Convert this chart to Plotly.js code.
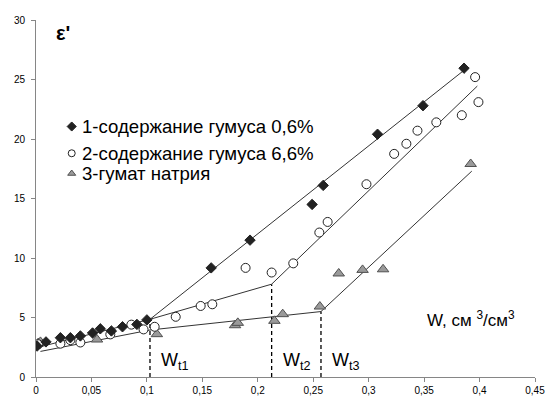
<!DOCTYPE html>
<html><head><meta charset="utf-8">
<script src="https://cdn.plot.ly/plotly-3.0.1.min.js"></script>
<style>html,body{margin:0;padding:0;background:#fff}#chart{width:547px;height:399px}</style>
</head><body><div id="chart"></div>
<script>
// Series 1: содержание гумуса 0,6% (diamonds)
const s1x = [0.001, 0.009, 0.022, 0.031, 0.040, 0.051, 0.058, 0.068, 0.078, 0.091, 0.100, 0.158, 0.193, 0.249, 0.259, 0.308, 0.349, 0.386];
const s1y = [2.6, 2.95, 3.3, 3.3, 3.45, 3.7, 4.05, 3.87, 4.22, 4.42, 4.8, 9.17, 11.5, 14.5, 16.1, 20.4, 22.8, 25.95];
// Series 2: содержание гумуса 6,6% (open circles)
const s2x = [0.002, 0.022, 0.031, 0.040, 0.067, 0.086, 0.097, 0.107, 0.126, 0.1485, 0.159, 0.189, 0.2125, 0.232, 0.2555, 0.263, 0.298, 0.323, 0.334, 0.344, 0.361, 0.384, 0.396, 0.399];
const s2y = [2.75, 2.8, 3.1, 2.9, 3.58, 4.4, 4.0, 4.22, 5.06, 5.97, 6.11, 9.17, 8.78, 9.55, 12.14, 13.03, 16.2, 18.75, 19.6, 20.7, 21.4, 22.0, 25.2, 23.1];
// Series 3: гумат натрия (triangles)
const s3x = [0.002, 0.004, 0.055, 0.109, 0.1795, 0.182, 0.215, 0.2225, 0.256, 0.273, 0.2945, 0.313, 0.392];
const s3y = [2.85, 2.95, 3.15, 3.6, 4.35, 4.55, 4.72, 5.28, 5.92, 8.7, 9.0, 9.05, 17.9];
// Fitted broken lines
const l1x = [0.002, 0.1028, 0.387]; const l1y = [2.5, 4.85, 25.85];
const l2x = [0.1028, 0.2125, 0.398]; const l2y = [4.85, 7.8, 24.45];
const l3x = [0.004, 0.1028, 0.257, 0.393]; const l3y = [2.15, 3.95, 5.5, 17.3];
// Transition points Wt1, Wt2, Wt3
const breakX = [0.1028, 0.2125, 0.257];
const breakY = [4.85, 7.8, 5.5];
const breakLabels = ['W<sub>t1</sub>', 'W<sub>t2</sub>', 'W<sub>t3</sub>'];
// Legend
const seriesNames = ['1-содержание гумуса 0,6%', '2-содержание гумуса 6,6%', '3-гумат натрия'];
const legendY = [21.05, 18.8, 17.1];
// Axis ticks
const xTickVals = [0, 0.05, 0.1, 0.15, 0.2, 0.25, 0.3, 0.35, 0.4, 0.45];
const xTickText = ['0', '0,05', '0,1', '0,15', '0,2', '0,25', '0,3', '0,35', '0,4', '0,45'];
const yTickVals = [0, 5, 10, 15, 20, 25, 30];
const yTickText = ['0', '5', '10', '15', '20', '25', '30'];

const FONT = 'Liberation Sans, Arial, sans-serif';
const lineStyle = {color: '#333', width: 1};
const m1 = {symbol: 'diamond', size: 8, color: '#222', line: {color: '#222', width: 1}};
const m2 = {symbol: 'circle', size: 9, color: '#fff', line: {color: '#222', width: 1}};
const m3 = {symbol: 'triangle-up', size: 10, color: '#9a9a9a', line: {color: '#505050', width: 1}};
const lm = [
  {symbol: 'diamond', size: 7, color: '#222', line: {color: '#222', width: 1}},
  {symbol: 'circle', size: 7, color: '#fff', line: {color: '#222', width: 1}},
  {symbol: 'triangle-up', size: 7, color: '#9a9a9a', line: {color: '#505050', width: 1}}
];

const traces = [];
breakX.forEach((bx, i) => traces.push({x: [bx, bx], y: [0, breakY[i]], mode: 'lines', line: {color: '#000', width: 1.3, dash: '4px,3px'}, hoverinfo: 'skip'}));
traces.push({x: l1x, y: l1y, mode: 'lines', line: lineStyle});
traces.push({x: l2x, y: l2y, mode: 'lines', line: lineStyle});
traces.push({x: l3x, y: l3y, mode: 'lines', line: lineStyle});
traces.push({x: s3x, y: s3y, mode: 'markers', marker: m3, name: seriesNames[2]});
traces.push({x: s2x, y: s2y, mode: 'markers', marker: m2, name: seriesNames[1]});
traces.push({x: s1x, y: s1y, mode: 'markers', marker: m1, name: seriesNames[0]});
seriesNames.forEach((n, i) => traces.push({x: [0.0322], y: [legendY[i]], mode: 'markers', marker: lm[i], hoverinfo: 'skip'}));

const annotations = [];
seriesNames.forEach((n, i) => annotations.push({x: 0.0395, y: legendY[i], xref: 'x', yref: 'y', text: n, showarrow: false, xanchor: 'left', yanchor: 'middle', font: {family: FONT, size: 18.6, color: '#000'}}));
breakX.forEach((bx, i) => annotations.push({x: bx + 0.0085, y: 1.3, xref: 'x', yref: 'y', text: breakLabels[i], showarrow: false, xanchor: 'left', yanchor: 'middle', font: {family: FONT, size: 18, color: '#000'}}));
annotations.push({x: 0.351, y: 4.9, xref: 'x', yref: 'y', text: 'W, см <sup>3</sup>/см<sup>3</sup>', showarrow: false, xanchor: 'left', yanchor: 'middle', font: {family: FONT, size: 17, color: '#000'}});
annotations.push({x: 0.016, y: 28.9, xref: 'x', yref: 'y', text: "<b>ε'</b>", showarrow: false, xanchor: 'left', yanchor: 'middle', font: {family: FONT, size: 20, color: '#000'}});

const layout = {
  width: 547, height: 399,
  margin: {l: 36, r: 12, t: 20, b: 22},
  paper_bgcolor: '#fff', plot_bgcolor: '#fff',
  showlegend: false,
  separators: ', ',
  font: {family: FONT, size: 10, color: '#000'},
  xaxis: {range: [0, 0.45], tickvals: xTickVals, ticktext: xTickText, showgrid: false, zeroline: false,
          showline: true, linecolor: '#868686', linewidth: 1, ticks: 'outside', ticklen: 4, tickcolor: '#868686',
          tickfont: {family: FONT, size: 10, color: '#000'}},
  yaxis: {range: [0, 30], tickvals: yTickVals, ticktext: yTickText, showgrid: false, zeroline: false,
          showline: true, linecolor: '#868686', linewidth: 1, ticks: 'outside', ticklen: 4, tickcolor: '#868686',
          tickfont: {family: FONT, size: 10, color: '#000'}, ticklabelstandoff: 4},
  annotations: annotations
};
Plotly.newPlot('chart', traces, layout, {displayModeBar: false, staticPlot: true});
</script></body></html>
